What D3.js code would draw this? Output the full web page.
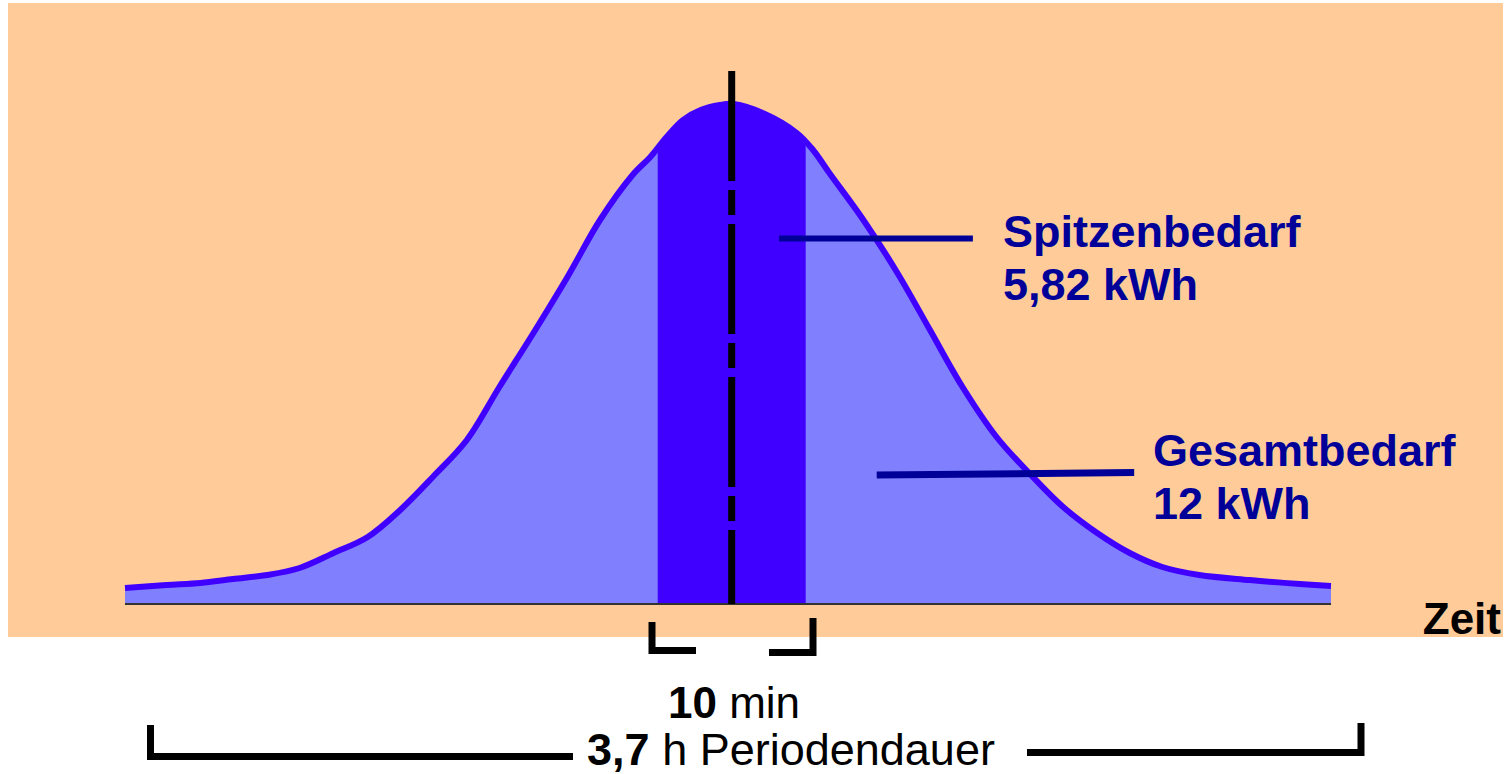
<!DOCTYPE html>
<html>
<head>
<meta charset="utf-8">
<script src="https://cdn.jsdelivr.net/npm/d3@7"></script>
<style>
  html, body { margin: 0; padding: 0; background: #ffffff; }
  svg { display: block; font-family: "Liberation Sans", Arial, sans-serif; }
</style>
</head>
<body>
<svg id="chart" width="1505" height="774"></svg>
<script>
// Load profile (time in minutes, load in relative units)
const timeMin = [0, 2.8, 5.1, 7.3, 9.6, 11.8, 14.1, 16.4, 18.6, 20.8, 23.1, 25.3, 27.6, 29.9,
  32.1, 34.3, 35.5, 36.6, 37.7, 38.9, 40.2, 41.1, 43.1, 45.4, 46.5, 47.6, 49.9, 52.2, 54.4,
  56.6, 58.9, 61.1, 63.4, 65.7, 67.9, 70.1, 72.6, 76.0, 79.4, 81.5];
const load = [0.16, 0.19, 0.21, 0.25, 0.29, 0.36, 0.51, 0.67, 0.94, 1.27, 1.64, 2.17, 2.71, 3.27,
  3.84, 4.29, 4.47, 4.67, 4.84, 4.94, 4.99, 5.00, 4.91, 4.71, 4.54, 4.31, 3.84, 3.31, 2.74,
  2.17, 1.67, 1.31, 0.97, 0.71, 0.51, 0.37, 0.29, 0.24, 0.20, 0.18];

// 10 minute peak window and the peak time
const peakWindow = [36, 46];
const peakTime = 41;

// Labels
const labelNames = ["Spitzenbedarf", "Gesamtbedarf"];
const labelValues = ["5,82 kWh", "12 kWh"];
const axisLabel = "Zeit";

const data = timeMin.map((t, i) => ({ t: t, v: load[i] }));

const svg = d3.select("#chart");

// Background panel
svg.append("rect")
    .attr("x", 8).attr("y", 3)
    .attr("width", 1495).attr("height", 634)
    .style("fill", "#ffcc99");

// Scales
const x = d3.scaleLinear().domain([0, 81.5]).range([125, 1331]);
const y = d3.scaleLinear().domain([0, 5]).range([604, 104]);

const area = d3.area()
    .x(d => x(d.t))
    .y0(y(0))
    .y1(d => y(d.v))
    .curve(d3.curveCatmullRom);

const line = d3.line()
    .x(d => x(d.t))
    .y(d => y(d.v))
    .curve(d3.curveCatmullRom);

// Total demand area
svg.append("path")
    .datum(data)
    .attr("d", area)
    .style("fill", "#8080ff");

// Peak demand band (clipped to the 10 min window)
svg.append("clipPath")
    .attr("id", "peakClip")
    .append("rect")
    .attr("x", x(peakWindow[0]))
    .attr("y", 0)
    .attr("width", x(peakWindow[1]) - x(peakWindow[0]))
    .attr("height", y(0));

svg.append("path")
    .datum(data)
    .attr("d", area)
    .attr("clip-path", "url(#peakClip)")
    .style("fill", "#4000ff");

// Curve outline
svg.append("path")
    .datum(data)
    .attr("d", line)
    .style("fill", "none")
    .style("stroke", "#4000ff")
    .style("stroke-width", 6)
    .style("stroke-linejoin", "round");

// Time axis (baseline)
svg.append("line")
    .attr("x1", x(0)).attr("x2", x(81.5))
    .attr("y1", y(0)).attr("y2", y(0))
    .style("stroke", "#333333")
    .style("stroke-width", 2);

// Dash-dot line at the peak
svg.append("line")
    .attr("x1", x(peakTime)).attr("x2", x(peakTime))
    .attr("y1", y(5.33)).attr("y2", y(0))
    .style("stroke", "#000000")
    .style("stroke-width", 7)
    .style("stroke-dasharray", "110 9 25 9");

// Annotation pointers
svg.append("line")
    .attr("x1", x(44.2)).attr("x2", x(57.3))
    .attr("y1", y(3.655)).attr("y2", y(3.655))
    .style("stroke", "#000099")
    .style("stroke-width", 6);

svg.append("line")
    .attr("x1", x(50.8)).attr("x2", x(68.2))
    .attr("y1", y(1.29)).attr("y2", y(1.315))
    .style("stroke", "#000099")
    .style("stroke-width", 7);

// Annotation labels
const labelPos = [{ x: 1003, y: 247 }, { x: 1153, y: 466 }];
labelNames.forEach((name, i) => {
    const t = svg.append("text")
        .attr("x", labelPos[i].x)
        .attr("y", labelPos[i].y)
        .style("font-size", "45px")
        .style("font-weight", "bold")
        .style("fill", "#000099");
    t.append("tspan").text(name);
    t.append("tspan")
        .attr("x", labelPos[i].x)
        .attr("dy", 53)
        .text(labelValues[i]);
});

// Axis label
svg.append("text")
    .attr("x", 1501).attr("y", 634)
    .style("text-anchor", "end")
    .style("font-size", "44px")
    .style("font-weight", "bold")
    .style("fill", "#000000")
    .text(axisLabel);

// Brackets below the axis
const bracket = (d) => svg.append("path")
    .attr("d", d)
    .style("fill", "none")
    .style("stroke", "#000000")
    .style("stroke-width", 7)
    .style("stroke-linejoin", "miter");

bracket("M652,622 V650.5 H696");
bracket("M813,618 V652.5 H769");
bracket("M150.5,725 V756.5 H573");
bracket("M1361,723 V752.5 H1027");

// Bracket captions
const cap1 = svg.append("text")
    .attr("x", 734).attr("y", 718)
    .style("text-anchor", "middle")
    .style("font-size", "44px")
    .style("fill", "#000000");
cap1.append("tspan").style("font-weight", "bold").text("10");
cap1.append("tspan").text(" min");

const cap2 = svg.append("text")
    .attr("x", 791).attr("y", 765)
    .style("text-anchor", "middle")
    .style("font-size", "45px")
    .style("fill", "#000000");
cap2.append("tspan").style("font-weight", "bold").text("3,7");
cap2.append("tspan").text(" h Periodendauer");
</script>
</body>
</html>
